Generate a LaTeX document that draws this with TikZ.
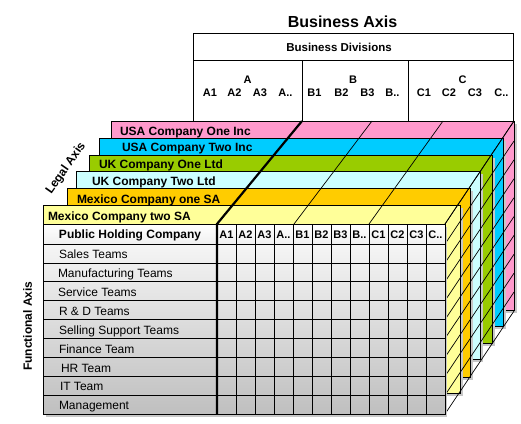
\documentclass[tikz,border=0pt]{standalone}
\usepackage{fontspec}
\setmainfont{Liberation Sans}
\definecolor{cpink}{HTML}{FF99CC}
\definecolor{cblue}{HTML}{00CCFF}
\definecolor{cgreen}{HTML}{99CC00}
\definecolor{ccyan}{HTML}{CCFFFF}
\definecolor{corange}{HTML}{FFCC00}
\definecolor{cyellow}{HTML}{FFFF99}
\begin{document}
\begin{tikzpicture}[x=1pt,y=-1pt,
  every node/.style={inner sep=0pt, outer sep=0pt},
  t/.style={font=\fontsize{12}{14}\selectfont},
  tb/.style={font=\fontsize{12}{14}\selectfont\bfseries},
  hb/.style={font=\fontsize{11}{13}\selectfont\bfseries},
  layer/.style={draw=black, line width=0.8pt},
  shadowc/.style={fill=black!22},
  gl/.style={line width=0.7pt},
  thickl/.style={line width=2.2pt},
  ]
\useasboundingbox (0,0) rectangle (521,423);

% top business box
\draw[layer, fill=white] (193,33) rectangle (513,121);
\draw[gl] (193,60) -- (513,60);
\draw[gl] (302,60) -- (302,121);
\draw[gl] (408,60) -- (408,121);
\node[font=\fontsize{16}{18}\selectfont\bfseries, anchor=base] (baxis) at (342.5,27.3) {Business Axis};
\node[font=\fontsize{11.5}{13}\selectfont\bfseries, anchor=base] (bdiv) at (339,51) {Business Divisions};
\node[hb, anchor=base] (dA) at (247.5,83.5) {A};
\node[hb, anchor=base] (dB) at (353,83.5) {B};
\node[hb, anchor=base] (dC) at (462.5,83.5) {C};
\node[hb, anchor=base] (tA1) at (210,96.5) {A1};
\node[hb, anchor=base] (tA2) at (234.5,96.5) {A2};
\node[hb, anchor=base] (tA3) at (260,96.5) {A3};
\node[hb, anchor=base] (tA4) at (285.5,96.5) {A..};
\node[hb, anchor=base] (tB1) at (314.5,96.5) {B1};
\node[hb, anchor=base] (tB2) at (341.5,96.5) {B2};
\node[hb, anchor=base] (tB3) at (367.5,96.5) {B3};
\node[hb, anchor=base] (tB4) at (392.5,96.5) {B..};
\node[hb, anchor=base] (tC1) at (424,96.5) {C1};
\node[hb, anchor=base] (tC2) at (449,96.5) {C2};
\node[hb, anchor=base] (tC3) at (475,96.5) {C3};
\node[hb, anchor=base] (tC4) at (501.5,96.5) {C..};

% layers
\foreach \l/\tp/\r/\b/\c in {111/121/514/310/cpink, 99/138/503/326/cblue, 89/155/492/343/cgreen, 76/171/480/359/ccyan, 67/188/470/377/corange, 43/205/460/393/cyellow} {
  \fill[shadowc] (\l+3,\tp+3) rectangle (\r+3,\b+3);
  \draw[layer, fill=\c] (\l,\tp) rectangle (\r,\b);
}
\node[tb, anchor=base west] (L1) at (120,135) {USA Company One Inc};
\node[tb, anchor=base west] (L2) at (122,151.7) {USA Company Two Inc};
\node[tb, anchor=base west] (L3) at (99,168.3) {UK Company One Ltd};
\node[tb, anchor=base west] (L4) at (92,185) {UK Company Two Ltd};
\node[tb, anchor=base west] (L5) at (77,203.3) {Mexico Company one SA};
\node[tb, anchor=base west] (L6) at (48,220) {Mexico Company two SA};

% diagonals across the bands
\draw[gl] (294,224) -- (372,121);
\draw[gl] (369,224) -- (443,121);
\draw[gl] (445,224) -- (514,121);
% diagonals on right side
\foreach \y in {224,244,262.9,281.8,300.7,319.6,338.4,357.3,376.2,395.1,414} {
  \draw[gl] (445,\y) -- (514,\y-103);
}

% grid
\fill[shadowc] (46,227) rectangle (447,417);
\shade[top color=white, bottom color=black!6] (43,224) rectangle (445,244);
\shade[top color=black!4, bottom color=black!25] (43,244) rectangle (445,414);
\foreach \y in {244,262.9,281.8,300.7,319.6,338.4,357.3,376.2,395.1} {
  \draw[gl] (43,\y) -- (445,\y);
}
\foreach \k in {1,...,11} {
  \draw[gl] (217+19*\k,224) -- (217+19*\k,414);
}
\draw[layer] (43,224) rectangle (445,414);
\draw[thickl] (217,414) -- (217,224) -- (302,121);

\node[tb, anchor=base] (phc) at (130,238.5) {Public Holding Company};
\node[hb, anchor=base] (gA1) at (226.5,238.3) {A1};
\node[hb, anchor=base] (gA2) at (245.5,238.3) {A2};
\node[hb, anchor=base] (gA3) at (264.5,238.3) {A3};
\node[hb, anchor=base] (gA4) at (283.5,238.3) {A..};
\node[hb, anchor=base] (gB1) at (302.5,238.3) {B1};
\node[hb, anchor=base] (gB2) at (321.5,238.3) {B2};
\node[hb, anchor=base] (gB3) at (340.5,238.3) {B3};
\node[hb, anchor=base] (gB4) at (359.5,238.3) {B..};
\node[hb, anchor=base] (gC1) at (378.5,238.3) {C1};
\node[hb, anchor=base] (gC2) at (397.5,238.3) {C2};
\node[hb, anchor=base] (gC3) at (416.5,238.3) {C3};
\node[hb, anchor=base] (gC4) at (435.5,238.3) {C..};

\node[t, anchor=base west] (r1) at (59,258.7) {Sales Teams};
\node[t, anchor=base west] (r2) at (58,277.6) {Manufacturing Teams};
\node[t, anchor=base west] (r3) at (58,296.5) {Service Teams};
\node[t, anchor=base west] (r4) at (59,315.4) {R \& D Teams};
\node[t, anchor=base west] (r5) at (59,334.3) {Selling Support Teams};
\node[t, anchor=base west] (r6) at (59,353.2) {Finance Team};
\node[t, anchor=base west] (r7) at (61,372.1) {HR Team};
\node[t, anchor=base west] (r8) at (60,390.9) {IT Team};
\node[t, anchor=base west] (r9) at (59,409.8) {Management};

\node[tb, rotate=90] (faxis) at (27.5,326) {Functional Axis};
\node[tb, rotate=55] (laxis) at (66,168.5) {Legal Axis};
\end{tikzpicture}
\end{document}
